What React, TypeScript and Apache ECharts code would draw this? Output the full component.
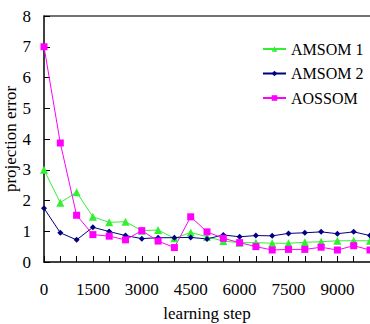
import React, { useEffect, useRef } from "react";
import * as echarts from "echarts";

// learning steps sampled every 500
const steps = [
  0, 500, 1000, 1500, 2000, 2500, 3000, 3500, 4000, 4500, 5000, 5500, 6000,
  6500, 7000, 7500, 8000, 8500, 9000, 9500, 10000,
];

const amsom1 = [
  3.0, 1.93, 2.27, 1.47, 1.29, 1.31, 1.02, 1.04, 0.77, 0.96, 0.82, 0.68, 0.63,
  0.63, 0.61, 0.61, 0.64, 0.66, 0.69, 0.69, 0.69,
];
const amsom2 = [
  1.75, 0.95, 0.72, 1.13, 0.99, 0.86, 0.76, 0.79, 0.79, 0.8, 0.75, 0.88, 0.82,
  0.86, 0.85, 0.93, 0.95, 0.98, 0.92, 0.98, 0.86,
];
const aossom = [
  7.0, 3.87, 1.52, 0.89, 0.84, 0.72, 1.02, 0.68, 0.47, 1.47, 0.98, 0.77, 0.63,
  0.5, 0.39, 0.41, 0.41, 0.48, 0.39, 0.53, 0.39,
];

const seriesNames = ["AMSOM 1", "AMSOM 2", "AOSSOM"];
const labelStep = 1500;

const FONT = "'Liberation Serif', 'Times New Roman', serif";

export default function App() {
  const ref = useRef<HTMLDivElement>(null);

  useEffect(() => {
    if (!ref.current) return;
    const chart = echarts.init(ref.current, null, { renderer: "svg" });
    const pair = (ys: number[]) => steps.map((s, i) => [s, ys[i]]);

    chart.setOption({
      animation: false,
      backgroundColor: "#ffffff",
      textStyle: { fontFamily: FONT },
      grid: {
        left: 44,
        top: 16,
        right: 0,
        bottom: 62,
        containLabel: false,
        outerBoundsMode: "none",
      },
      legend: {
        orient: "vertical",
        left: 257,
        top: 36,
        itemWidth: 23,
        itemHeight: 7,
        itemGap: 8.5,
        data: seriesNames,
        textStyle: {
          fontFamily: FONT,
          fontSize: 16,
          lineHeight: 16,
          color: "#000",
        },
      },
      xAxis: [
        {
          type: "value",
          min: 0,
          max: 10000,
          interval: 500,
          name: "learning step",
          nameLocation: "middle",
          nameGap: 43,
          nameMoveOverlap: false,
          nameTextStyle: { fontFamily: FONT, fontSize: 17, color: "#000" },
          axisLine: { lineStyle: { color: "#000", width: 1.5 } },
          axisTick: { inside: true, length: 6, lineStyle: { color: "#000" } },
          axisLabel: {
            margin: 19,
            fontFamily: FONT,
            fontSize: 17,
            color: "#000",
            showMaxLabel: false,
            formatter: (v: number) => (v % labelStep === 0 ? String(v) : ""),
          },
          splitLine: { show: false },
        },
        {
          type: "value",
          position: "top",
          min: 0,
          max: 10000,
          axisLine: { show: true, onZero: false, lineStyle: { color: "#444", width: 1.5 } },
          axisTick: { show: false },
          axisLabel: { show: false },
          splitLine: { show: false },
        },
      ],
      yAxis: {
        type: "value",
        min: 0,
        max: 8,
        interval: 1,
        name: "projection error",
        nameLocation: "middle",
        nameGap: 25,
        nameMoveOverlap: false,
        nameTextStyle: {
          fontFamily: FONT,
          fontSize: 17,
          lineHeight: 17,
          color: "#000",
        },
        axisLine: { show: true, lineStyle: { color: "#000", width: 1.5 } },
        axisTick: { show: true, inside: true, length: 6, lineStyle: { color: "#000" } },
        axisLabel: { margin: 13, fontFamily: FONT, fontSize: 17, color: "#000" },
        splitLine: { show: false },
      },
      series: [
        {
          name: seriesNames[0],
          type: "line",
          data: pair(amsom1),
          symbol: "triangle",
          symbolSize: 8,
          lineStyle: { color: "#33ee33", width: 1 },
          itemStyle: { color: "#33ee33" },
        },
        {
          name: seriesNames[1],
          type: "line",
          data: pair(amsom2),
          symbol: "diamond",
          symbolSize: 6,
          lineStyle: { color: "#000080", width: 1 },
          itemStyle: { color: "#000080" },
        },
        {
          name: seriesNames[2],
          type: "line",
          data: pair(aossom),
          symbol: "rect",
          symbolSize: 7,
          lineStyle: { color: "#ff00ff", width: 1 },
          itemStyle: { color: "#ff00ff" },
        },
      ],
    });

    return () => chart.dispose();
  }, []);

  return (
    <div
      ref={ref}
      style={{ position: "fixed", left: 0, top: 0, width: 370, height: 324 }}
    />
  );
}
